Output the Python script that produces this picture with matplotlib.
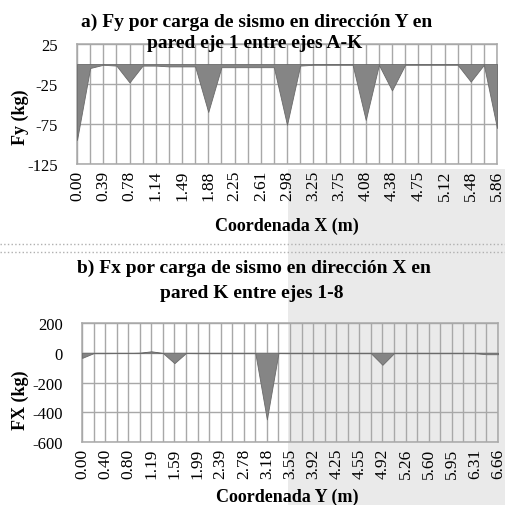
import matplotlib
matplotlib.use("Agg")
import matplotlib.pyplot as plt
import numpy as np
from matplotlib.patches import Rectangle
from matplotlib.lines import Line2D

plt.rcParams['font.family'] = ['Liberation Serif', 'DejaVu Serif']
plt.rcParams['axes.unicode_minus'] = False

## Data :

# a) Fy along wall axis 1 (33 categories, labelled every 2nd)
fy_labels = ["0.00", "0.39", "0.78", "1.14", "1.49", "1.88", "2.25", "2.61", "2.98",
             "3.25", "3.75", "4.08", "4.38", "4.75", "5.12", "5.48", "5.86"]
fy_values = [-95, -5, -1, -2, -23, -2, -2, -3, -3, -3, -60, -4, -4, -4, -4, -4, -76,
             -2, -1, -1, -1, -1, -70, -1, -33, -1, -1, -1, -1, -1, -22, -1, -80]
fy_ticks = [25, -25, -75, -125]

# b) Fx along wall K (37 categories, labelled every 2nd)
fx_labels = ["0.00", "0.40", "0.80", "1.19", "1.59", "1.99", "2.39", "2.78", "3.18", "3.55",
             "3.92", "4.25", "4.55", "4.92", "5.26", "5.60", "5.95", "6.31", "6.66"]
fx_values = [-35, -3, -3, -2, -2, 0, 10, -2, -70, -2, -3, -3, -3, -3, -3, -3, -448, -2,
             -3, -3, -3, -3, -3, -3, -3, -3, -81, -3, -3, -3, -3, -3, -3, -3, -3, -10, -10]
fx_ticks = [200, 0, -200, -400, -600]

##--------------------------------------------------------------------------------------------------------------##

W, H = 505, 506
fig = plt.figure(figsize=(W / 100, H / 100), dpi=100)

# scanned watermark shading
fig.patches.append(Rectangle((288 / W, 0), 1, 1 - 170 / H, transform=fig.transFigure,
                             facecolor='#eaeaea', edgecolor='none', zorder=-5))

# separator lines between the two charts
for yy in (245, 253):
    fig.add_artist(Line2D([0, 1], [1 - yy / H, 1 - yy / H], color='#b0b0b0', lw=1.0, ls=':'))


def px_axes(x0, y0, x1, y1):
    return fig.add_axes([x0 / W, 1 - y1 / H, (x1 - x0) / W, (y1 - y0) / H])


def draw_panel(ax, values, labels, yticks):
    n = len(values)
    x = np.arange(n)
    ax.set_facecolor('none')
    ax.fill_between(x, values, 0, facecolor='#858585', edgecolor='#6a6a6a', lw=0.6, zorder=3)
    ax.set_xlim(0, n - 1)
    ax.set_ylim(min(yticks), max(yticks))
    ax.set_yticks(yticks)
    ax.set_xticks(x)
    ax.set_xticklabels([labels[i // 2] if i % 2 == 0 else "" for i in x], rotation=90)
    ax.tick_params(axis='x', length=0, labelsize=12.5, pad=4)
    ax.tick_params(axis='y', length=0, labelsize=12, pad=14)
    ax.grid(True, color='#a8a8a8', lw=1.0)
    for s in ax.spines.values():
        s.set_color('#a8a8a8')
        s.set_linewidth(1.1)


ax1 = px_axes(77, 45, 497, 165)
draw_panel(ax1, fy_values, fy_labels, fy_ticks)

ax2 = px_axes(82, 324, 498, 443)
draw_panel(ax2, fx_values, fx_labels, fx_ticks)

# Titles and axis labels
bold = dict(fontweight='bold', ha='center', va='baseline')
fig.text(257 / W, 1 - 27 / H, "a) Fy por carga de sismo en dirección Y en", fontsize=14, **bold)
fig.text(255 / W, 1 - 48 / H, "pared eje 1 entre ejes A-K", fontsize=14, **bold)
fig.text(287 / W, 1 - 231 / H, "Coordenada X (m)", fontsize=13, **bold)
fig.text(20 / W, 1 - 117 / H, "Fy (kg)", fontsize=13, rotation=90, fontweight='bold',
         ha='center', va='center')

fig.text(254 / W, 1 - 273 / H, "b) Fx por carga de sismo en dirección X en", fontsize=14, **bold)
fig.text(252 / W, 1 - 298 / H, "pared K entre ejes 1-8", fontsize=14, **bold)
fig.text(287 / W, 1 - 502 / H, "Coordenada Y (m)", fontsize=13, **bold)
fig.text(20 / W, 1 - 400 / H, "FX (kg)", fontsize=13, rotation=90, fontweight='bold',
         ha='center', va='center')

fig.savefig("out.png", dpi=100)
